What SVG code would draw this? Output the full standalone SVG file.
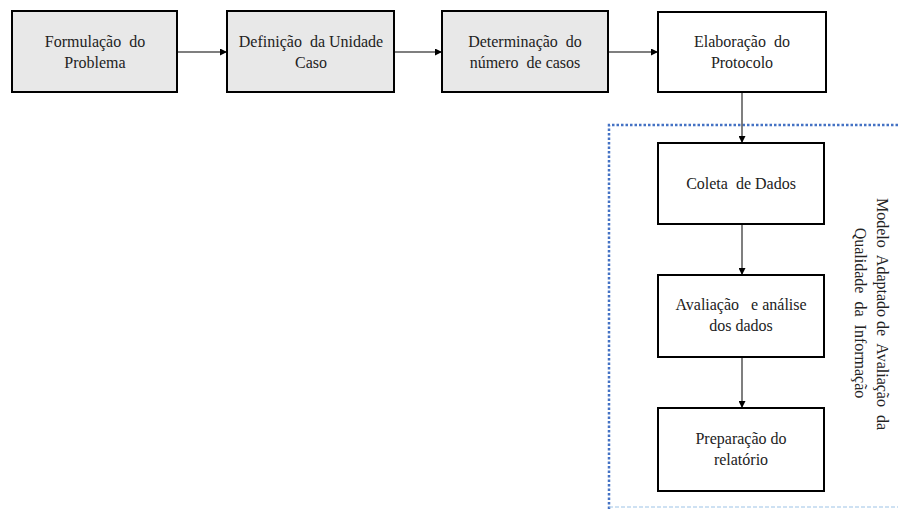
<svg xmlns="http://www.w3.org/2000/svg" width="898" height="509" viewBox="0 0 898 509">
  <style>
    .box { stroke: #000; stroke-width: 2; }
    .grey { fill: #e8e8e8; }
    .white { fill: #fff; }
    text { font-family: 'Liberation Serif', 'DejaVu Serif', serif; font-size: 16px; fill: #222; text-anchor: middle; white-space: pre; }
    .conn { fill: none; stroke: #000; stroke-width: 1.2; }
    .vconn { fill: none; stroke: #555; stroke-width: 1.5; }
  </style>
  <defs>
    <marker id="arrow" viewBox="0 0 10 10" refX="10" refY="5" markerWidth="7" markerHeight="7" markerUnits="userSpaceOnUse" orient="auto">
      <path d="M0,0 L10,5 L0,10 z" fill="#000"/>
    </marker>
  </defs>
  <rect width="898" height="509" fill="#fff"/>

  <!-- dotted frame around the adapted model -->
  <g id="frame">
    <path d="M898,125 L609,125 L609,509" fill="none" stroke="#4472c4" stroke-width="2.5" stroke-dasharray="2.5,2"/>
    <path d="M609,507 L898,507" fill="none" stroke="#9dc3e6" stroke-width="1" stroke-dasharray="4,2"/>
  </g>

  <g id="connectors">
    <line class="conn" x1="177" y1="52" x2="227" y2="52" marker-end="url(#arrow)"/>
    <line class="conn" x1="394" y1="52" x2="442" y2="52" marker-end="url(#arrow)"/>
    <line class="conn" x1="608" y1="52" x2="658" y2="52" marker-end="url(#arrow)"/>
    <line class="vconn" x1="742" y1="92" x2="742" y2="143" marker-end="url(#arrow)"/>
    <line class="vconn" x1="742" y1="224" x2="742" y2="275" marker-end="url(#arrow)"/>
    <line class="vconn" x1="742" y1="357" x2="742" y2="408" marker-end="url(#arrow)"/>
  </g>

  <g id="formulacao">
    <rect class="box grey" x="12" y="11" width="165" height="81"/>
    <text x="95" y="47" xml:space="preserve">Formulação  do</text>
    <text x="95" y="68">Problema</text>
  </g>
  <g id="definicao">
    <rect class="box grey" x="227" y="11" width="167" height="81"/>
    <text x="311" y="47" xml:space="preserve">Definição  da Unidade</text>
    <text x="311" y="68">Caso</text>
  </g>
  <g id="determinacao">
    <rect class="box grey" x="442" y="11" width="166" height="81"/>
    <text x="525" y="47" xml:space="preserve">Determinação  do</text>
    <text x="525" y="68" xml:space="preserve">número  de casos</text>
  </g>
  <g id="elaboracao">
    <rect class="box white" x="658" y="12" width="168" height="80"/>
    <text x="742" y="47" xml:space="preserve">Elaboração  do</text>
    <text x="742" y="68">Protocolo</text>
  </g>
  <g id="coleta">
    <rect class="box white" x="658" y="143" width="166" height="81"/>
    <text x="741" y="189" xml:space="preserve">Coleta  de Dados</text>
  </g>
  <g id="avaliacao">
    <rect class="box white" x="658" y="275" width="166" height="82"/>
    <text x="741" y="310" xml:space="preserve">Avaliação   e análise</text>
    <text x="741" y="331">dos dados</text>
  </g>
  <g id="preparacao">
    <rect class="box white" x="658" y="408" width="166" height="83"/>
    <text x="741" y="444">Preparação do</text>
    <text x="741" y="465">relatório</text>
  </g>

  <g id="model-label">
    <text transform="translate(877,314) rotate(90)" xml:space="preserve">Modelo  Adaptado de  Avaliação  da</text>
    <text transform="translate(855,313) rotate(90)" xml:space="preserve">Qualidade  da  Informação</text>
  </g>
</svg>
